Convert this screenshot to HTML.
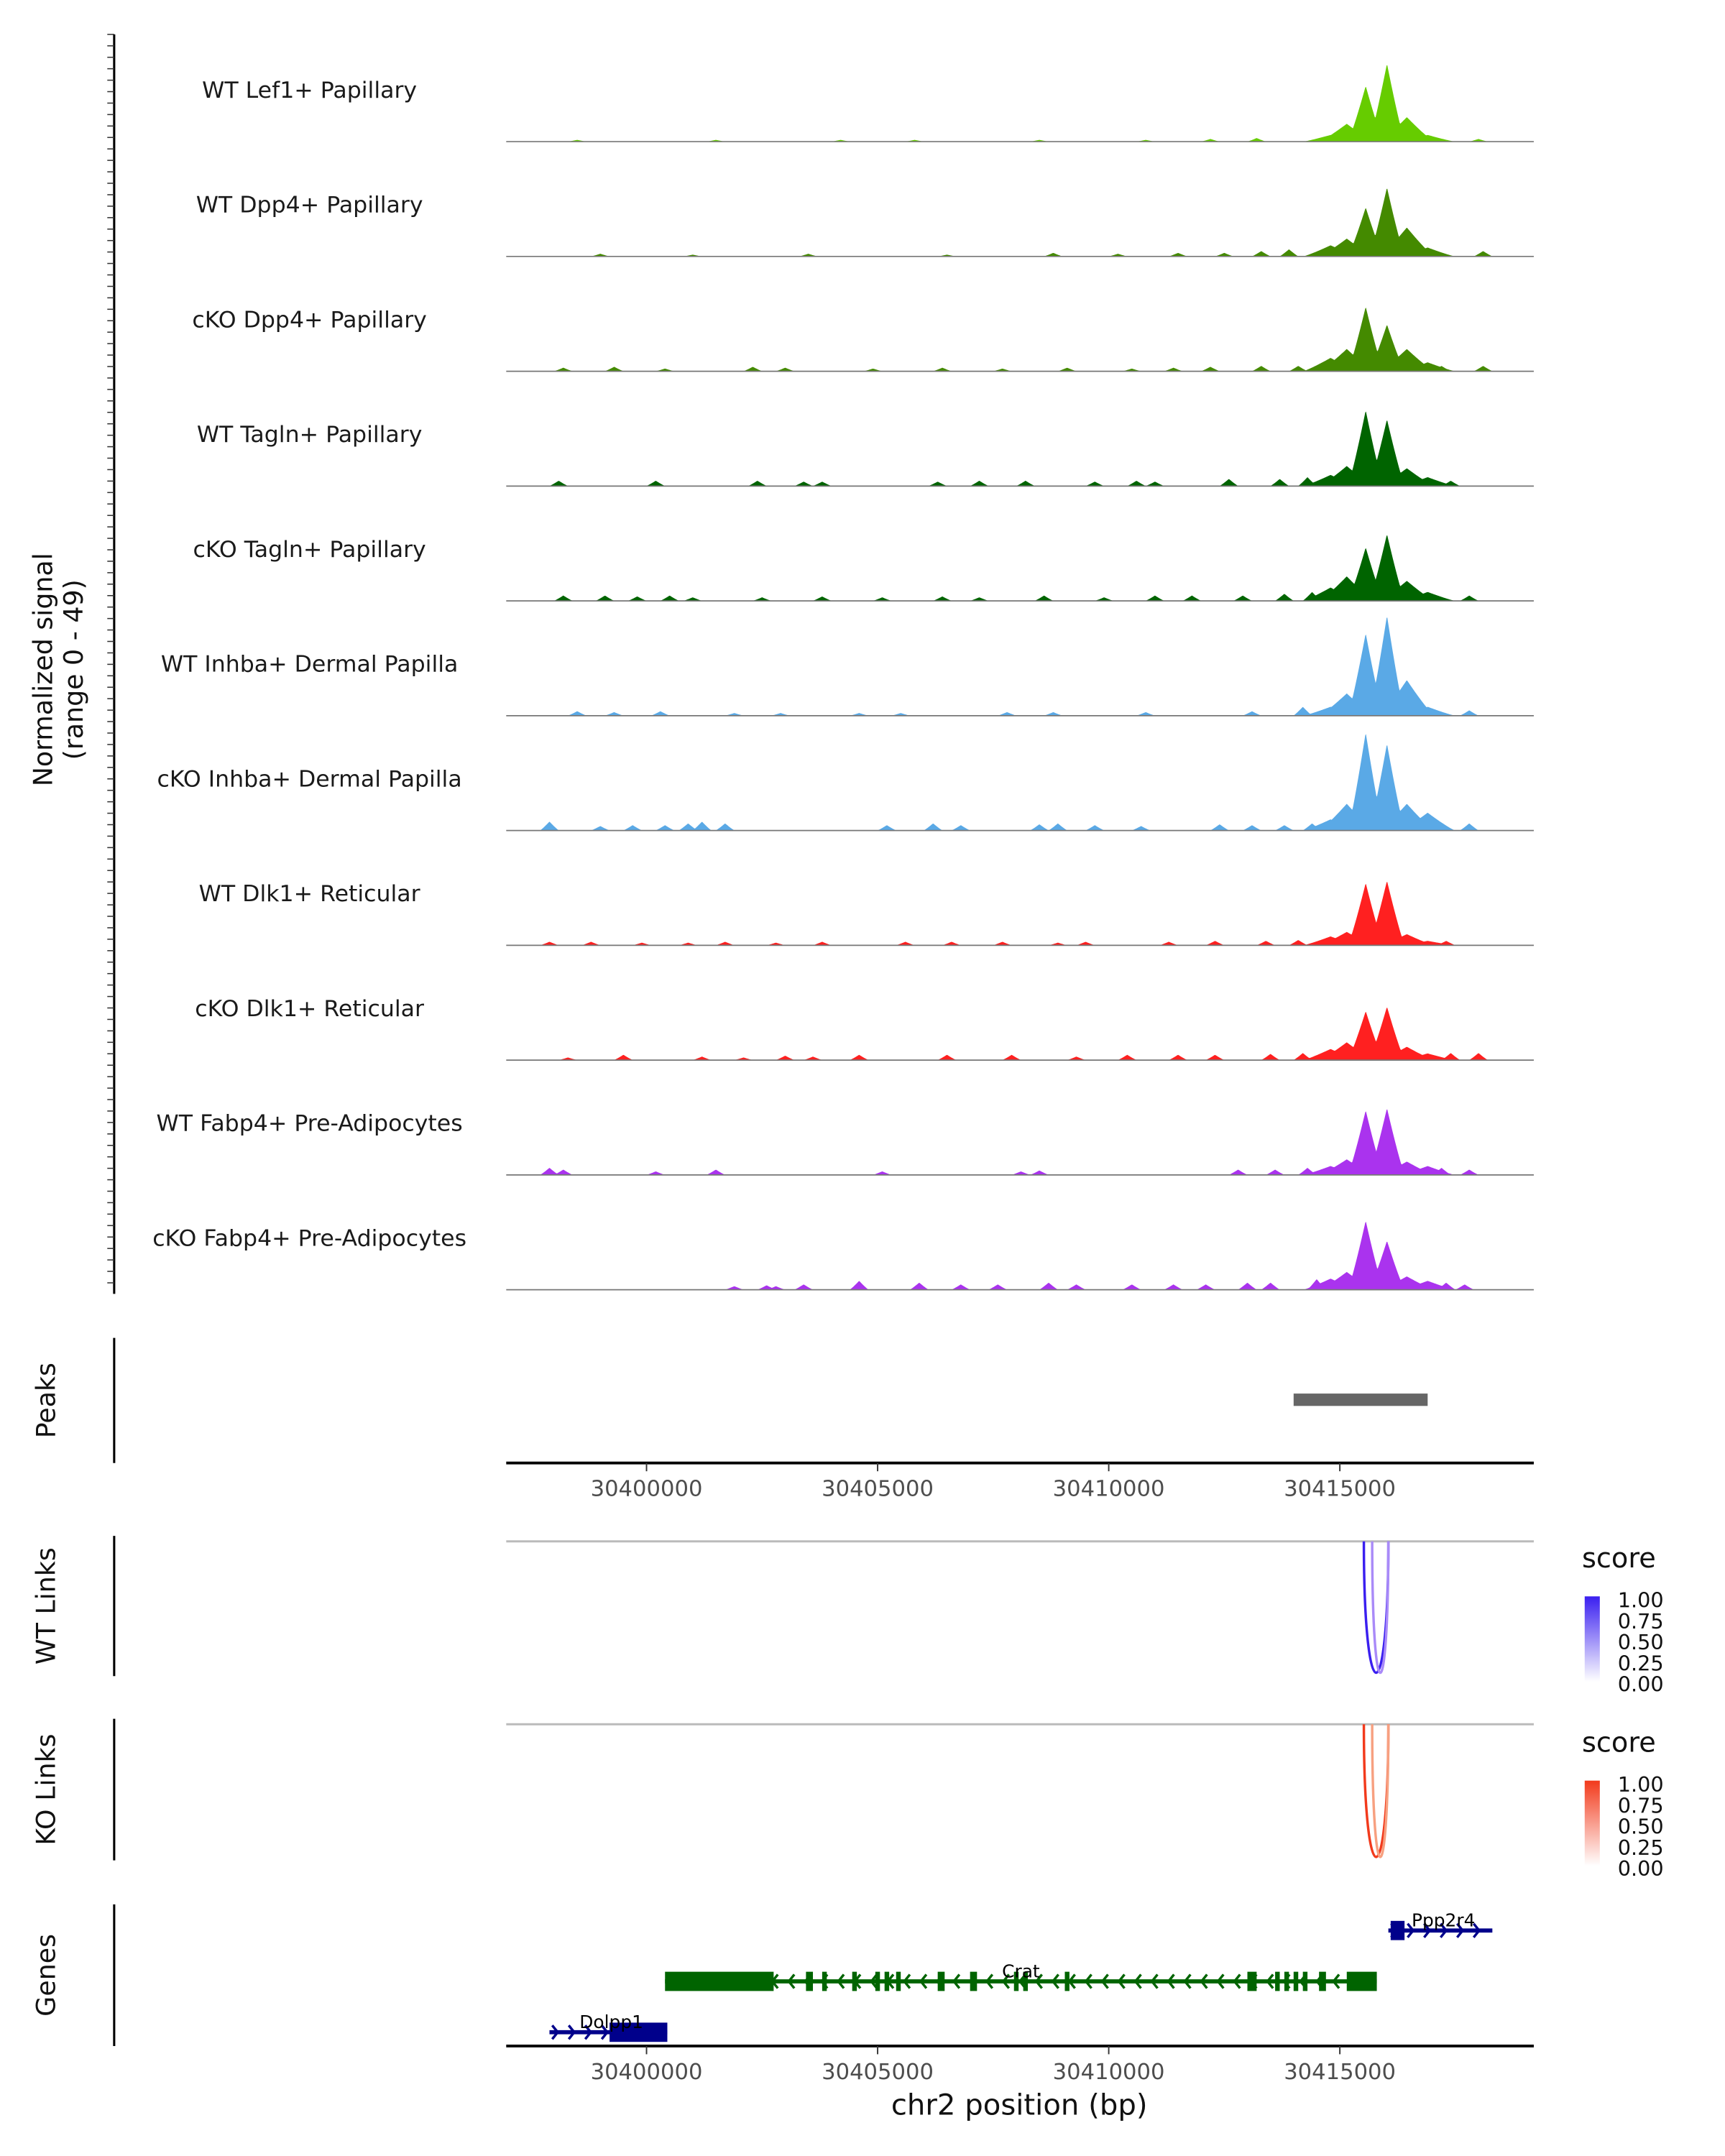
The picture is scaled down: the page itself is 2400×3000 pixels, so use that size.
<!DOCTYPE html>
<html><head><meta charset="utf-8"><style>
html,body{margin:0;padding:0;background:#fff}
svg{display:block;font-family:"DejaVu Sans","Liberation Sans",sans-serif}
</style></head><body>
<svg id="chart" width="2400" height="3000" viewBox="0 0 1254 1568" preserveAspectRatio="none" xmlns="http://www.w3.org/2000/svg">
<rect width="1254" height="1568" fill="#fff"/>
<g id="tracks"></g>
<g id="peaks"></g>
<g id="links"></g>
<g id="genes"></g>
</svg>
<script>
const trackNames = ["WT Lef1+ Papillary","WT Dpp4+ Papillary","cKO Dpp4+ Papillary","WT Tagln+ Papillary","cKO Tagln+ Papillary","WT Inhba+ Dermal Papilla","cKO Inhba+ Dermal Papilla","WT Dlk1+ Reticular","cKO Dlk1+ Reticular","WT Fabp4+ Pre-Adipocytes","cKO Fabp4+ Pre-Adipocytes"];
const trackColors = ["#66cc00","#448a00","#448a00","#006400","#006400","#5aa9e6","#5aa9e6","#ff2020","#ff2020","#aa33ee","#aa33ee"];
const mainPos = [30414800,30415150,30415560,30416020,30416450,30416900];
const mainHeights = [
 [3,8,25,35,11,3],[5,8,22,31,13,4],[6,10,29,21,10,4],[5,9,34,30,8,4],[6,11,24,30,9,4],
 [4,10,37,45,16,4],[5,12,44,39,12,8],[4,6,28,29,5,2],[5,8,22,24,6,3],[4,7,29,30,6,4],[5,8,31,22,6,4]];
const noisePos = [
 [30398500,30401500,30404200,30405800,30408500,30410800,30412200,30413200,30418000],
 [30399000,30401000,30403500,30406500,30408800,30410200,30411500,30412500,30413300,30413900,30418100],
 [30398200,30399300,30400400,30402300,30403000,30404900,30406400,30407700,30409100,30410500,30411400,30412200,30413300,30414100,30417200,30418100],
 [30398100,30400200,30402400,30403400,30403800,30406300,30407200,30408200,30409700,30410600,30411000,30412600,30413700,30414300,30417000,30417400],
 [30398200,30399100,30399800,30400500,30401000,30402500,30403800,30405100,30406400,30407200,30408600,30409900,30411000,30411800,30412900,30413800,30414400,30417800],
 [30398500,30399300,30400300,30401900,30402900,30404600,30405500,30407800,30408800,30410800,30413100,30414200,30417800],
 [30397900,30399000,30399700,30400400,30400900,30401200,30401700,30405200,30406200,30406800,30408500,30408900,30409700,30410700,30412400,30413100,30413800,30414400,30417000,30417800],
 [30397900,30398800,30399900,30400900,30401700,30402800,30403800,30405600,30406600,30407700,30408900,30409500,30411300,30412300,30413400,30414100,30417300],
 [30398300,30399500,30401200,30402100,30403000,30403600,30404600,30406500,30407900,30409300,30410400,30411500,30412300,30413500,30414200,30417400,30418000],
 [30397900,30398200,30400200,30401500,30405100,30408100,30408500,30412800,30413600,30414300,30417200,30417800],
 [30401900,30402800,30402600,30403400,30404600,30405900,30406800,30407600,30408700,30409300,30410500,30411400,30412100,30413000,30413500,30414500,30417300,30417700]];
const noiseHeights = [
 [1,1,1,1,1,1,1.5,2,1.5],[1.5,1,1.5,1,2,1.5,2,2,3,4,3],[2,2.5,1.5,2.5,2,1.5,2,1.5,2,1.5,2,2.5,3,3,3,3],
 [3,3,3,2.5,2.5,2.5,3,3,2.5,3,2.5,4,4,5,3,3],[3,3,2.5,3,2,2,2.5,2,2.5,2,3,2,3,3,3,4,5,3],
 [2.5,2,2.5,1.5,1.5,1.5,1.5,2,2,2,2.5,5,3],[5,2.5,3,3,4,5,4,3,4,3,3.5,4,3,2.5,3.5,3,3,4,4,4],
 [2,2,1.5,1.5,2,1.5,2,2,2,2,1.5,2,2,2.5,2.5,3,2.5],[1.5,3,2,1.5,2.5,2,3,3,3,2,3,3,3,3.5,4,4,4],
 [4,3,2,3,2,2,2.5,3,3,4,4,3],[2,2,2.5,3,5,4,3,3,4,3,3,3,3,4,4,6,4,3]];
const tickVals = [30400000,30405000,30410000,30415000];
const peakStart = [30414000], peakEnd = [30416900];
const wtLinkStart=[30415520,30415700], wtLinkEnd=[30416050,30416050], wtLinkScore=[0.75,0.55];
const koLinkStart=[30415520,30415700], koLinkEnd=[30416050,30416050], koLinkScore=[0.75,0.55];
const genes = [
 {name:"Dolpp1",row:2,start:30397900,end:30400450,strand:1,exons:[[30399200,30400450]],color:"#00008b",lx:443},
 {name:"Crat",row:1,start:30400400,end:30415800,strand:-1,color:"#006400",lx:742,
  exons:[[30400400,30402750],[30403450,30403600],[30403800,30403900],[30404450,30404550],[30404950,30405050],[30405150,30405250],[30405400,30405500],[30406300,30406450],[30407000,30407150],[30407950,30408050],[30408150,30408250],[30409050,30409150],[30413000,30413200],[30413600,30413700],[30413800,30413900],[30414000,30414100],[30414200,30414300],[30414550,30414700],[30415150,30415800]]},
 {name:"Ppp2r4",row:0,start:30416050,end:30418300,strand:1,exons:[[30416100,30416400]],color:"#00008b",lx:1043}];

const NS="http://www.w3.org/2000/svg";
const X0=368,X1=1115;
const xs=p=>470+(p-30400000)*(168/5000);
function el(tag,attrs,parent,text){const e=document.createElementNS(NS,tag);for(const k in attrs)e.setAttribute(k,attrs[k]);if(text!==undefined)e.textContent=text;parent.appendChild(e);return e;}
const pxPerUnit=1.62;
const gT=document.getElementById('tracks');
let ax=el('line',{x1:83,y1:25,x2:83,y2:941,stroke:"#000","stroke-width":1.6},gT);

for(let y=25;y<=941;y+=8.33){let t=el('line',{x1:78,y1:y,x2:83,y2:y,stroke:"#333","stroke-width":0.8},gT);}
let yl=el('text',{x:0,y:0,"font-size":19,"text-anchor":"middle",transform:"translate(42,487) rotate(-90)",fill:"#111"},gT);

el('tspan',{x:0,dy:-4},yl,"Normalized signal");el('tspan',{x:0,dy:22},yl,"(range 0 - 49)");
trackNames.forEach((nm,i)=>{
  const base=103+i*83.5;
  const g=el('g',{},gT);
  const pk=[];mainPos.forEach((p,j)=>pk.push([xs(p),mainHeights[i][j]*pxPerUnit,j==2||j==3?13:20]));
  noisePos[i].forEach((p,j)=>pk.push([xs(p),noiseHeights[i][j]*pxPerUnit*0.8,7]));
  let d="M"+X0+" "+base;
  for(let x=X0;x<=1085;x+=0.5){let v=0;pk.forEach(q=>{const f=1-Math.abs(x-q[0])/q[2];if(f>0)v=Math.max(v,q[1]*Math.pow(f,1.15));});d+=" L"+x+" "+(base-v).toFixed(2);}
  d+=" L1085 "+base+" Z";
  const a=el('path',{d:d,fill:trackColors[i]},g);
  const bl=el('line',{x1:X0,y1:base,x2:X1,y2:base,stroke:"#777","stroke-width":0.9},g);
  const lb=el('text',{x:225,y:base-32,"font-size":16.5,"text-anchor":"middle",fill:"#1a1a1a"},g,nm);
});
function axisX(g,y){const l=el('line',{x1:X0,y1:y,x2:X1,y2:y,stroke:"#000","stroke-width":2},g);
 tickVals.forEach(v=>{const t=el('line',{x1:xs(v),y1:y,x2:xs(v),y2:y+6,stroke:"#333","stroke-width":1},g);
  const tl=el('text',{x:xs(v),y:y+24,"font-size":16,"text-anchor":"middle",fill:"#4d4d4d"},g,String(v));});}
function panelLabel(g,txt,y0,y1){const l=el('line',{x1:83,y1:y0,x2:83,y2:y1,stroke:"#000","stroke-width":1.6},g);
 const t=el('text',{x:0,y:0,"font-size":19,"text-anchor":"middle",transform:`translate(40,${(y0+y1)/2}) rotate(-90)`,fill:"#111"},g,txt);}
const gP=document.getElementById('peaks');
panelLabel(gP,"Peaks",973,1064);
peakStart.forEach((s,i)=>{const r=el('rect',{x:xs(s),y:1013.5,width:xs(peakEnd[i])-xs(s),height:9,fill:"#666"},gP);});
axisX(gP,1064);
const gL=document.getElementById('links');
function links(y0,y1,name,starts,ends,scores,hi,lo,legY){
 const g=el('g',{},gL);
 panelLabel(g,name=="wt-links"?"WT Links":"KO Links",y0-4,y1);
 const bl=el('line',{x1:X0,y1:y0,x2:X1,y2:y0,stroke:"#bbb","stroke-width":1.6},g);
 starts.forEach((s,i)=>{const a=xs(s),b=xs(ends[i]);const depth=(y1-y0)*1.3;
  const c=scores[i]>0.6?hi:lo;
  const p=el('path',{d:`M${a} ${y0} C${a} ${y0+depth},${b} ${y0+depth},${b} ${y0}`,fill:"none",stroke:c,"stroke-width":1.8},g);});
 const lt=el('text',{x:1150,y:legY,"font-size":20,fill:"#111"},g,"score");
 const gid=name+"-grad";const defs=el('defs',{},g);const lg=el('linearGradient',{id:gid,x1:0,y1:1,x2:0,y2:0},defs);
 el('stop',{offset:"0",'stop-color':"#fff"},lg);el('stop',{offset:"1",'stop-color':hi},lg);
 const cb=el('rect',{x:1152,y:legY+21,width:11,height:62,fill:`url(#${gid})`},g);
 ["1.00","0.75","0.50","0.25","0.00"].forEach((v,k)=>{const t=el('text',{x:1176,y:legY+29+k*15.3,"font-size":15,fill:"#111"},g,v);});
}
links(1121,1219,"wt-links",wtLinkStart,wtLinkEnd,wtLinkScore,"#3a1ff0","#a98af8",1140);
links(1254,1353,"ko-links",koLinkStart,koLinkEnd,koLinkScore,"#f23a1c","#f7a080",1274);
const gG=document.getElementById('genes');
panelLabel(gG,"Genes",1385,1488);
const rowY=[1404,1441,1478];
genes.forEach(gn=>{
 const g=el('g',{},gG);
 const y=rowY[gn.row],a=xs(gn.start),b=xs(gn.end);
 el('line',{x1:a,y1:y,x2:b,y2:y,stroke:gn.color,"stroke-width":3},g);
 for(let x=a+6;x<b-2;x+=12){const dx=gn.strand>0?4:-4;el('path',{d:`M${x-dx} ${y-5} L${x} ${y} L${x-dx} ${y+5}`,fill:"none",stroke:gn.color,"stroke-width":1.8},g);}
 gn.exons.forEach(e=>{const r=el('rect',{x:xs(e[0]),y:y-7,width:Math.max(3,xs(e[1])-xs(e[0])),height:14,fill:gn.color},g);});
 const t=el('text',{x:xs(gn.start)+(gn.name=="Crat"?(xs(gn.end)-xs(gn.start))/2:(gn.name=="Dolpp1"?45:40)),y:y-3,"font-size":13,"text-anchor":"middle",fill:"#000"},g,gn.name);
});
axisX(gG,1488);
const xt=el('text',{x:741,y:1538,"font-size":21,"text-anchor":"middle",fill:"#111"},gG,"chr2 position (bp)");

</script>
</body></html>
